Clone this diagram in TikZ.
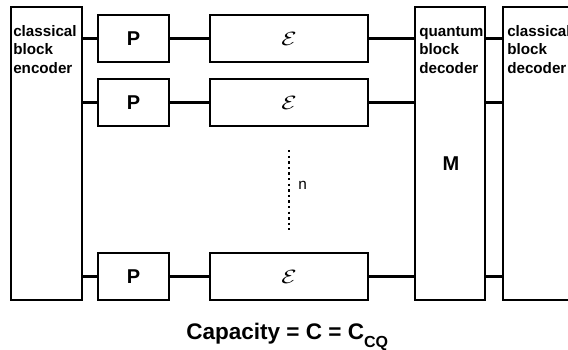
\documentclass[tikz,border=0pt]{standalone}
\usepackage{fontspec}
\setmainfont{Liberation Sans}
\begin{document}
\begin{tikzpicture}[x=0.75pt,y=-0.75pt,
  blk/.style={draw=black, line width=2pt, fill=white, inner sep=0pt},
  tall/.style={blk, minimum width=#1, minimum height=219.75pt},
  pbox/.style={blk, minimum width=53.25pt, minimum height=35.25pt,
               font=\fontsize{15}{15}\selectfont\bfseries},
  ebox/.style={blk, minimum width=118.5pt, minimum height=35.25pt,
               font=\fontsize{14}{14}\selectfont},
  wire/.style={draw=black, line width=2pt},
  boxtext/.style={anchor=north west, inner sep=0pt, align=left,
                  font=\fontsize{11.4}{14}\selectfont\bfseries},
  dots/.style={draw=black, line width=2.2pt, dash pattern=on 1.8pt off 2.4pt}
]
% page frame, also clipping the open decoder on the right
\clip (0,0) rectangle (568,350);
\fill[white] (0,0) rectangle (568,350);

\newcommand{\chan}{\scalebox{1.3}[1]{$\mathcal{E}$}}

% tall blocks
\node[tall=53.25pt] (enc)  at (46.5,153.5) {};
\node[tall=52.5pt]  (qdec) at (450,153.5) {};
\node[tall=60pt]    (cdec) at (543,153.5) {};

% channel rows
\node[pbox] (p1) at (133.5,38.5)  {P};
\node[pbox] (p2) at (133.5,102.5) {P};
\node[pbox] (p3) at (133.5,276.5) {P};
\node[ebox] (e1) at (289,38.5)  {\chan};
\node[ebox] (e2) at (289,102.5) {\chan};
\node[ebox] (e3) at (289,276.5) {\chan};

% block labels
\node[boxtext] (enclabel)  at (13,25)  {classical\\block\\encoder};
\node[boxtext] (qdeclabel) at (419,25) {\vphantom{l}quantum\\block\\decoder};
\node[boxtext] (cdeclabel) at (507,25) {classical\\block\\decoder};
\node[font=\fontsize{15}{15}\selectfont\bfseries] (mlabel) at (451,164) {M};

% wires
\foreach \p/\e in {p1/e1, p2/e2, p3/e3} {
  \draw[wire] (enc.east |- \p.west) -- (\p.west);
  \draw[wire] (\p.east) -- (\e.west);
  \draw[wire] (\e.east) -- (qdec.west |- \e.east);
  \draw[wire] (qdec.east |- \e.east) -- (cdec.west |- \e.east);
}

% ellipsis for the n repeated rows
\coordinate (dtop) at (289,150);
\coordinate (dbot) at (289,230);
\draw[dots] (dtop) -- (dbot);
\node[anchor=west, inner sep=0pt, font=\fontsize{11.5}{11.5}\selectfont] (nlabel) at (298,185) {n};

% capacity caption
\node[anchor=base west, inner sep=0pt, font=\fontsize{16.9}{17}\selectfont\bfseries] (cap) at (186,339)
  {Capacity = C = C\raisebox{-6.5pt}{\fontsize{12}{12}\selectfont CQ}};
\end{tikzpicture}
\end{document}
